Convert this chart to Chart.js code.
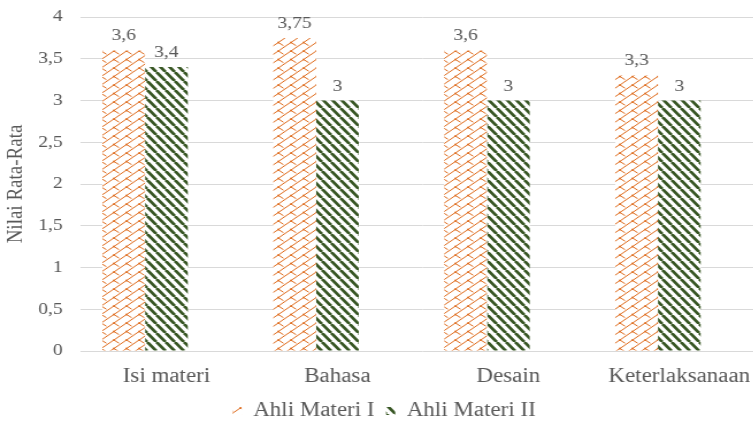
<!DOCTYPE html>
<html>
<head>
<meta charset="utf-8">
<script src="https://cdn.jsdelivr.net/npm/chart.js@4"></script>
<style>
  html, body { margin: 0; padding: 0; overflow: hidden; background: #ffffff; }
  /* chart is drawn slightly narrow and widened horizontally */
  #wrap { width: 670px; height: 425px; position: relative; transform: scaleX(1.15); transform-origin: 0 0; }
</style>
</head>
<body>
<div id="wrap"><canvas id="c"></canvas></div>
<script>
// Rata-rata penilaian ahli materi per aspek
const categories = ['Isi materi', 'Bahasa', 'Desain', 'Keterlaksanaan'];
const ahliMateri1 = [3.6, 3.75, 3.6, 3.3];
const ahliMateri2 = [3.4, 3, 3, 3];
const seriesNames = ['Ahli Materi I', 'Ahli Materi II'];
const yMin = 0, yMax = 4, yStep = 0.5;

const ORANGE = '#DF6D1F';
const GREEN = '#375623';
const TEXT = '#595959';
const FONT = '"Liberation Serif", "Times New Roman", serif';

const fmt = v => String(v).replace('.', ',');

// shingle net: rising diagonals with small hooks at each joint
function shinglePattern() {
  const W = 22, H = 17, w = 11, h = 8.5;
  const cv = document.createElement('canvas');
  cv.width = W; cv.height = H;
  const g = cv.getContext('2d');
  g.fillStyle = '#ffffff';
  g.fillRect(0, 0, W, H);
  g.strokeStyle = ORANGE;
  g.fillStyle = ORANGE;
  g.lineWidth = 1;
  for (let x0 = -2 * W; x0 <= 2 * W; x0 += w) {
    g.beginPath();
    g.moveTo(x0, H);
    g.lineTo(x0 + W, 0);
    g.stroke();
    for (let k = 0; k <= 2; k++) {
      const vx = x0 + k * w, vy = H - k * h;
      g.beginPath();
      g.moveTo(vx, vy);
      g.lineTo(vx + 4.5, vy + 3.2);
      g.stroke();
      g.fillRect(vx - 0.8, vy - 0.8, 1.6, 1.6);
    }
  }
  return g.createPattern(cv, 'repeat');
}

// dark green diagonal stripes
function stripePattern() {
  const w = 8, h = 9;
  const cv = document.createElement('canvas');
  cv.width = w; cv.height = h;
  const g = cv.getContext('2d');
  g.fillStyle = '#ffffff';
  g.fillRect(0, 0, w, h);
  g.strokeStyle = GREEN;
  g.lineWidth = 2.8;
  [-w, 0, w].forEach(dx => {
    g.beginPath();
    g.moveTo(dx, 0);
    g.lineTo(dx + w, h);
    g.stroke();
  });
  return g.createPattern(cv, 'repeat');
}

const valueLabels = {
  id: 'valueLabels',
  afterDatasetsDraw(chart) {
    const ctx = chart.ctx;
    ctx.save();
    ctx.font = '17px ' + FONT;
    ctx.fillStyle = TEXT;
    ctx.textAlign = 'center';
    ctx.textBaseline = 'alphabetic';
    [0, 1].forEach(di => {
      const meta = chart.getDatasetMeta(di);
      meta.data.forEach((bar, i) => {
        const v = chart.data.datasets[di].data[i];
        ctx.fillText(fmt(v), bar.x, bar.y - 10);
      });
    });
    ctx.restore();
  }
};

new Chart(document.getElementById('c'), {
  type: 'bar',
  data: {
    labels: categories,
    datasets: [
      { label: seriesNames[0], data: ahliMateri1, backgroundColor: shinglePattern(), borderWidth: 0 },
      { label: seriesNames[1], data: ahliMateri2, backgroundColor: stripePattern(), borderWidth: 0 },
      // empty slot keeps the pair left of the category centre
      { label: '', data: categories.map(() => null), backgroundColor: 'rgba(0,0,0,0)', borderWidth: 0 }
    ]
  },
  options: {
    responsive: true,
    maintainAspectRatio: false,
    animation: false,
    categoryPercentage: 0.75,
    barPercentage: 1.0,
    layout: { padding: { left: 3, right: 5, top: 17, bottom: -6 } },
    scales: {
      x: {
        grid: { display: false, drawTicks: false },
        border: { display: false },
        ticks: { color: TEXT, font: { family: FONT, size: 20 }, padding: 14 },
        afterFit: s => { s.height -= 12; }
      },
      y: {
        min: yMin, max: yMax,
        grid: { color: '#d9d9d9', lineWidth: 1, drawTicks: false },
        border: { display: false },
        ticks: {
          stepSize: yStep, color: TEXT, padding: 16,
          font: { family: FONT, size: 17 },
          callback: v => fmt(v)
        },
        title: {
          display: true, text: 'Nilai Rata-Rata', color: TEXT,
          font: { family: FONT, size: 19 },
          padding: { top: 0, bottom: 8 }
        },
        afterFit: s => { s.width = 67.4; s.paddingTop = 0; s.paddingBottom = 0; }
      }
    },
    plugins: {
      legend: {
        position: 'bottom',
        labels: {
          color: TEXT, font: { family: FONT, size: 20 },
          boxWidth: 8, boxHeight: 8, padding: 10,
          filter: item => item.datasetIndex < 2
        }
      },
      tooltip: { enabled: false }
    }
  },
  plugins: [valueLabels]
});
</script>
</body>
</html>
